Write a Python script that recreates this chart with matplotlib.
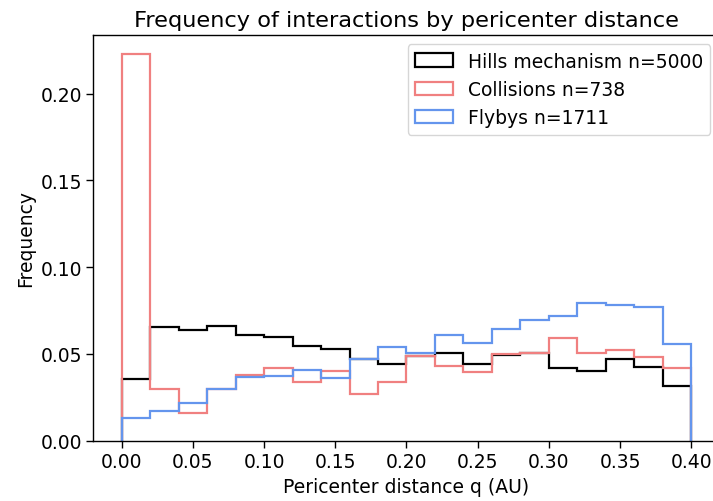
import numpy as np
import matplotlib
matplotlib.use("Agg")
import matplotlib.pyplot as plt

plt.rcParams["font.size"] = 13.5
plt.rcParams["axes.linewidth"] = 1.0
plt.rcParams["xtick.major.size"] = 4.7
plt.rcParams["ytick.major.size"] = 4.7
plt.rcParams["xtick.major.width"] = 1.0
plt.rcParams["ytick.major.width"] = 1.0

# bin edges 0..0.4 in steps of 0.02
bin_edges = np.linspace(0, 0.4, 21)
bin_centers = (bin_edges[:-1] + bin_edges[1:]) / 2

hills = [0.0358, 0.0654, 0.0640, 0.0663, 0.0611, 0.0598, 0.0548, 0.0531, 0.0469, 0.0442,
         0.0487, 0.0508, 0.0441, 0.0494, 0.0508, 0.0419, 0.0400, 0.0473, 0.0427, 0.0317]
collisions = [0.2228, 0.0298, 0.0160, 0.0298, 0.0379, 0.0417, 0.0340, 0.0404, 0.0269, 0.0339,
              0.0490, 0.0431, 0.0394, 0.0498, 0.0504, 0.0594, 0.0504, 0.0525, 0.0483, 0.0417]
flybys = [0.0133, 0.0173, 0.0217, 0.0298, 0.0367, 0.0373, 0.0406, 0.0362, 0.0471, 0.0538,
          0.0504, 0.0608, 0.0562, 0.0642, 0.0694, 0.0719, 0.0792, 0.0783, 0.0773, 0.0556]

fig = plt.figure(figsize=(7.13, 5.02), dpi=100)
ax = fig.add_axes([0.1307, 0.1201, 0.8788, 0.8088])

ax.hist(bin_centers, bins=bin_edges, weights=hills, histtype="step",
        color="black", linewidth=1.6, label="Hills mechanism n=5000")
ax.hist(bin_centers, bins=bin_edges, weights=collisions, histtype="step",
        color="lightcoral", linewidth=1.6, label="Collisions n=738")
ax.hist(bin_centers, bins=bin_edges, weights=flybys, histtype="step",
        color="cornflowerblue", linewidth=1.6, label="Flybys n=1711")

ax.set_xticks(np.arange(0, 0.41, 0.05))
ax.set_title("Frequency of interactions by pericenter distance")
ax.set_xlabel("Pericenter distance q (AU)")
ax.set_ylabel("Frequency")
ax.legend(loc="upper right")

fig.savefig("out.png", dpi=100)
